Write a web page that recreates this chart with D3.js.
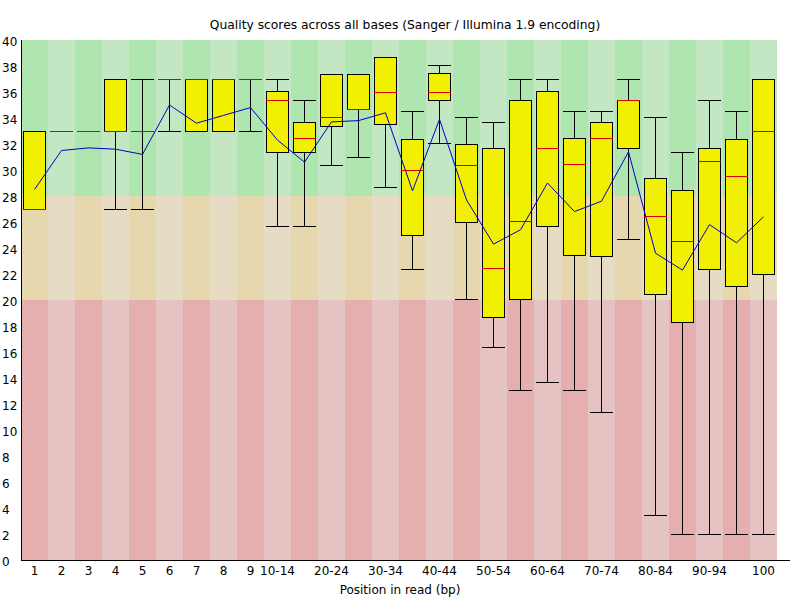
<!DOCTYPE html>
<html lang="en">
    <head>
        <meta charset="utf-8">
        <title>Per base sequence quality</title>
        <script type="text/javascript" src="https://cdn.jsdelivr.net/npm/d3@7"></script>
        <style>
          body { margin: 0; background: #fff; }
          text { font-family: "DejaVu Sans", sans-serif; font-size: 12px; fill: #000; }
        </style>
    </head>
    <body>
        <script type="text/javascript">

        //Width and height
        var w = 800;
        var h = 600;

        //Positions in read
        var positions = ["1", "2", "3", "4", "5", "6", "7", "8", "9", "10-14", "15-19", "20-24", "25-29",
                         "30-34", "35-39", "40-44", "45-49", "50-54", "55-59", "60-64", "65-69", "70-74",
                         "75-79", "80-84", "85-89", "90-94", "95-99", "100"];

        //Labels that are printed under the axis
        var shownLabels = ["1", "2", "3", "4", "5", "6", "7", "8", "9", "10-14", "20-24", "30-34", "40-44",
                           "50-54", "60-64", "70-74", "80-84", "90-94", "100"];

        //Box values per position
        var lowerWhisker = [27, 33, 33, 27, 27, 33, 33, 33, 33, 25.7, 25.7, 30.4, 31.0, 28.7, 22.4, 32.1, 20.1,
                            16.4, 13.1, 13.7, 13.1, 11.4, 24.7, 3.5, 2.0, 2.0, 2.0, 2.0];
        var lowerQuartile = [27, 33, 33, 33, 33, 37, 33, 33, 37, 31.4, 31.4, 33.4, 34.7, 33.5, 25.0, 35.4, 26.0,
                             18.7, 20.1, 25.7, 23.5, 23.4, 31.7, 20.5, 18.3, 22.4, 21.1, 22.0];
        var medians = [27, 33, 33, 33, 33, 37, 37, 37, 37, 35.4, 32.5, 34.1, 34.7, 36.0, 30.0, 36.0, 30.4,
                       22.5, 26.1, 31.7, 30.5, 32.5, 35.4, 26.5, 24.5, 30.7, 29.5, 33.0];
        var upperQuartile = [33, 33, 33, 37, 33, 37, 37, 37, 37, 36.1, 33.7, 37.4, 37.4, 38.7, 32.4, 37.5, 32.0,
                             31.7, 35.4, 36.1, 32.5, 33.7, 35.4, 29.4, 28.5, 31.7, 32.4, 37];
        var upperWhisker = [33, 33, 33, 37, 37, 37, 37, 37, 37, 37, 35.4, 37.4, 37.4, 38.7, 34.5, 38.1, 34.1,
                            33.7, 37, 37, 34.5, 34.5, 37, 34.1, 31.4, 35.4, 34.5, 37];
        var means = [28.5, 31.5, 31.7, 31.6, 31.2, 35.0, 33.6, 34.2, 34.8, 32.3, 30.6, 33.7, 33.8, 34.4, 28.4,
                     33.9, 27.7, 24.3, 25.4, 29.0, 26.8, 27.6, 31.4, 23.6, 22.3, 25.8, 24.4, 26.4];

        //Quality zones
        var zones = [
          { from: 28, to: 40, light: "rgb(195,230,195)", dark: "rgb(175,230,175)" },
          { from: 20, to: 28, light: "rgb(230,220,195)", dark: "rgb(230,215,175)" },
          { from: 0, to: 20, light: "rgb(230,195,195)", dark: "rgb(230,175,175)" }
        ];

        //Create scale functions
        var xScale = d3.scaleBand()
                       .domain(positions)
                       .range([21, 777]);

        var yScale = d3.scaleLinear()
                       .domain([0, 40])
                       .range([560, 40]);

        var bw = xScale.bandwidth();

        //pixel row for a value, so boxes and medians share the same line
        var py = function(v) { return Math.round(yScale(v)) + 0.5; };

        //Create SVG element
        var svg = d3.select("body")
              .append("svg")
              .attr("width", w)
              .attr("height", h);

        //Background stripes
        zones.forEach(function(z) {
          svg.append("g")
             .selectAll("rect")
             .data(positions)
             .enter()
             .append("rect")
             .attr("x", function(d) { return xScale(d); })
             .attr("y", yScale(z.to))
             .attr("width", bw)
             .attr("height", yScale(z.from) - yScale(z.to))
             .attr("fill", function(d, i) { return i % 2 == 0 ? z.dark : z.light; })
             .attr("shape-rendering", "crispEdges");
        });

        var boxes = positions.map(function(p, i) {
          return { pos: p, lw: lowerWhisker[i], q1: lowerQuartile[i], med: medians[i],
                   q3: upperQuartile[i], uw: upperWhisker[i] };
        });

        var g = svg.append("g").attr("shape-rendering", "crispEdges");

        //Whiskers
        g.selectAll(".whisker")
         .data(boxes)
         .enter()
         .append("line")
         .attr("x1", function(d) { return xScale(d.pos) + 13.5; })
         .attr("x2", function(d) { return xScale(d.pos) + 13.5; })
         .attr("y1", function(d) { return py(d.uw); })
         .attr("y2", function(d) { return py(d.lw); })
         .attr("stroke", "#000");

        g.selectAll(".capTop")
         .data(boxes)
         .enter()
         .append("line")
         .attr("x1", function(d) { return xScale(d.pos) + 2; })
         .attr("x2", function(d) { return xScale(d.pos) + bw - 2; })
         .attr("y1", function(d) { return py(d.uw); })
         .attr("y2", function(d) { return py(d.uw); })
         .attr("stroke", "#000");

        g.selectAll(".capBottom")
         .data(boxes)
         .enter()
         .append("line")
         .attr("x1", function(d) { return xScale(d.pos) + 2; })
         .attr("x2", function(d) { return xScale(d.pos) + bw - 2; })
         .attr("y1", function(d) { return py(d.lw); })
         .attr("y2", function(d) { return py(d.lw); })
         .attr("stroke", "#000");

        //Boxes
        g.selectAll(".box")
         .data(boxes.filter(function(d) { return d.q3 > d.q1; }))
         .enter()
         .append("rect")
         .attr("x", function(d) { return xScale(d.pos) + 2.5; })
         .attr("y", function(d) { return py(d.q3); })
         .attr("width", bw - 5)
         .attr("height", function(d) { return py(d.q1) - py(d.q3); })
         .attr("fill", "rgb(240,240,0)")
         .attr("stroke", "#000");

        //Medians
        g.selectAll(".median")
         .data(boxes)
         .enter()
         .append("line")
         .attr("x1", function(d) { return xScale(d.pos) + 2; })
         .attr("x2", function(d) { return xScale(d.pos) + bw - 2; })
         .attr("y1", function(d) { return py(d.med); })
         .attr("y2", function(d) { return py(d.med); })
         .attr("stroke", "rgb(220,0,0)");

        //Mean line
        var line = d3.line()
                     .x(function(d, i) { return xScale(positions[i]) + bw / 2; })
                     .y(function(d) { return yScale(d); });

        svg.append("path")
           .datum(means)
           .attr("d", line)
           .attr("fill", "none")
           .attr("stroke", "rgb(0,0,200)")
           .attr("stroke-width", 1);

        //Axis lines
        svg.append("line")
           .attr("x1", 21.5).attr("x2", 21.5)
           .attr("y1", yScale(40)).attr("y2", yScale(0))
           .attr("stroke", "#000");

        svg.append("line")
           .attr("x1", 21).attr("x2", 790)
           .attr("y1", yScale(0) + 0.5).attr("y2", yScale(0) + 0.5)
           .attr("stroke", "#000");

        //Define X axis
        var xAxis = d3.axisBottom()
                      .scale(xScale)
                      .tickValues(shownLabels)
                      .tickSize(0)
                      .tickPadding(0);

        //Define Y axis
        var yAxis = d3.axisLeft()
                      .scale(yScale)
                      .tickValues(d3.range(0, 41, 2))
                      .tickSize(0);

        //Create X axis
        var xg = svg.append("g")
           .attr("transform", "translate(0,560)")
           .call(xAxis);
        xg.select(".domain").remove();
        xg.selectAll("text")
          .attr("y", 14.5)
          .attr("dy", null);

        //Create Y axis
        var yg = svg.append("g")
           .attr("transform", "translate(21,0)")
           .call(yAxis);
        yg.select(".domain").remove();
        yg.selectAll("text")
          .attr("x", -19)
          .attr("dy", "5.5")
          .attr("text-anchor", "start");

        //Titles
        svg.append("text")
           .attr("x", 405)
           .attr("y", 29)
           .attr("text-anchor", "middle")
           .style("font-size", "12.3px")
           .text("Quality scores across all bases (Sanger / Illumina 1.9 encoding)");

        svg.append("text")
           .attr("x", 400)
           .attr("y", 594)
           .attr("text-anchor", "middle")
           .text("Position in read (bp)");

        </script>
    </body>
</html>
